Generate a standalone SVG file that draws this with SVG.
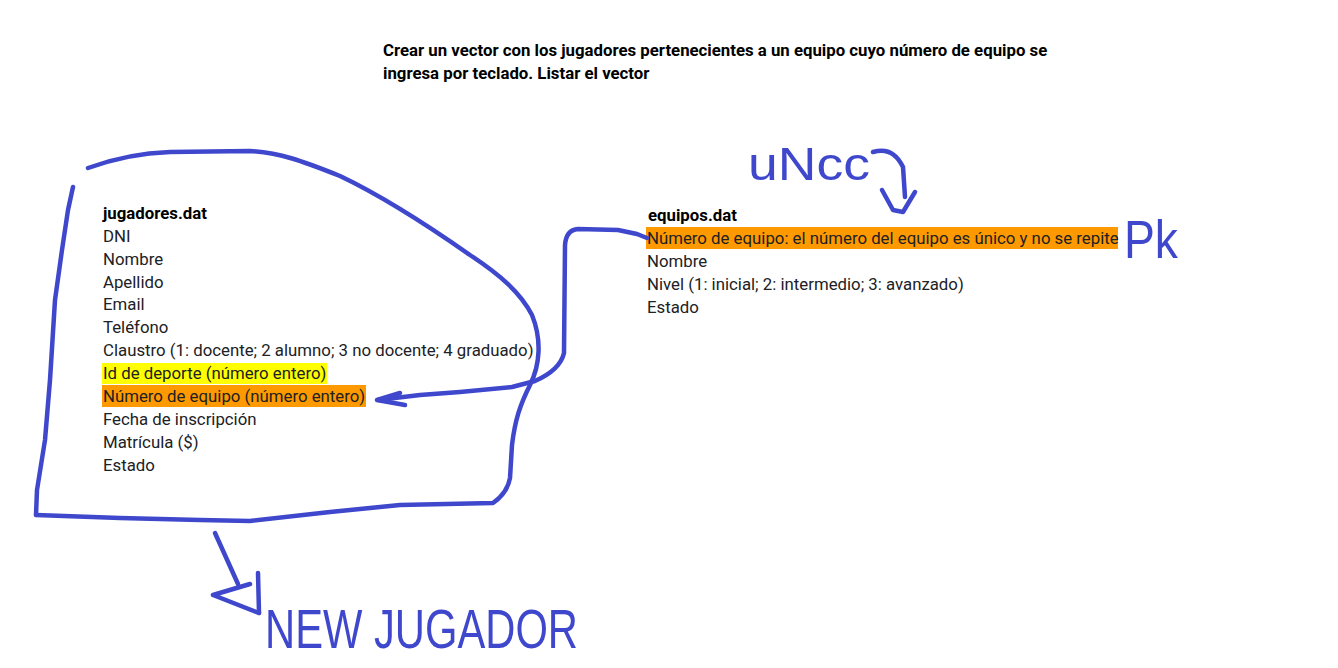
<svg xmlns="http://www.w3.org/2000/svg" width="1338" height="668" viewBox="0 0 1338 668">
<style>
  .t{font-family:Roboto,"Liberation Sans",sans-serif;font-size:16.8px;fill:#202124}
  .b{font-weight:bold;fill:#000}
  .hl-y{fill:#ffff00}
  .hl-o{fill:#ff9900}
  .ink{fill:none;stroke:#3f48cc;stroke-width:4.5;stroke-linecap:round;stroke-linejoin:round}
  .hand{font-family:"Liberation Sans",Arial,sans-serif;fill:#3f48cc}
</style>
<rect width="1338" height="668" fill="#fff"/>
<g id="title">
  <text class="t b" x="383" y="56">Crear un vector con los jugadores pertenecientes a un equipo cuyo número de equipo se</text>
  <text class="t b" x="383" y="79">ingresa por teclado. Listar el vector</text>
</g>
<g id="jugadores">
  <rect class="hl-y" x="102" y="363" width="225" height="21"/>
  <rect class="hl-o" x="102" y="385" width="264" height="22"/>
  <text class="t b" x="103" y="219">jugadores.dat</text>
  <text class="t" x="103" y="242">DNI</text>
  <text class="t" x="103" y="265">Nombre</text>
  <text class="t" x="103" y="288">Apellido</text>
  <text class="t" x="103" y="310">Email</text>
  <text class="t" x="103" y="333">Teléfono</text>
  <text class="t" x="103" y="356">Claustro (1: docente; 2 alumno; 3 no docente; 4 graduado)</text>
  <text class="t" x="103" y="379">Id de deporte (número entero)</text>
  <text class="t" x="103" y="402">Número de equipo (número entero)</text>
  <text class="t" x="103" y="425">Fecha de inscripción</text>
  <text class="t" x="103" y="448">Matrícula ($)</text>
  <text class="t" x="103" y="471">Estado</text>
  <path class="ink" d="M88,168 C110,160 140,153 170,152 L250,151 C280,153 300,160 340,176 C380,195 420,220 470,255 C500,275 520,292 532,315 C542,340 540,365 530,385 C520,405 515,420 512,445 L510,478 C508,490 500,498 493,503 L400,505 L330,512 L250,521 L200,520 L120,518 L36,515"/>
  <path class="ink" d="M36,515 L37,490 L45,440 L50,380 L55,300 L62,250 L68,210 L73,187"/>
</g>
<g id="equipos">
  <rect class="hl-o" x="646" y="227" width="472" height="22"/>
  <text class="t b" x="648" y="221">equipos.dat</text>
  <text class="t" x="647" y="244">Número de equipo: el número del equipo es único y no se repite</text>
  <text class="t" x="647" y="267">Nombre</text>
  <text class="t" x="647" y="290">Nivel (1: inicial; 2: intermedio; 3: avanzado)</text>
  <text class="t" x="647" y="313">Estado</text>
</g>
<g id="annotations">
  <text class="hand" x="748" y="180" font-size="46" textLength="122" lengthAdjust="spacingAndGlyphs">uNcc</text>
  <text class="hand" x="1124" y="258" font-size="54" textLength="54" lengthAdjust="spacingAndGlyphs">Pk</text>
  <text class="hand" x="265" y="648" font-size="56" textLength="313" lengthAdjust="spacingAndGlyphs">NEW JUGADOR</text>
</g>
<g id="connectors">
  <path class="ink" d="M647,238 L637,234 L618,230 L578,229 Q566,230 565,245 L564,353 Q560,370 535,381 L512,387 L460,392 L420,395 L378,400"/>
  <path class="ink" d="M400,393 L377,400 L405,405"/>
  <path class="ink" d="M873,152 Q893,146 903,167 L905,197"/>
  <path class="ink" d="M882,190 L893,210 L903,212 L915,192"/>
  <path class="ink" d="M215,533 L238,584"/>
  <path class="ink" d="M250,584 L213,595 L259,613"/>
  <path class="ink" d="M258,573 L259,613"/>
</g>
</svg>
